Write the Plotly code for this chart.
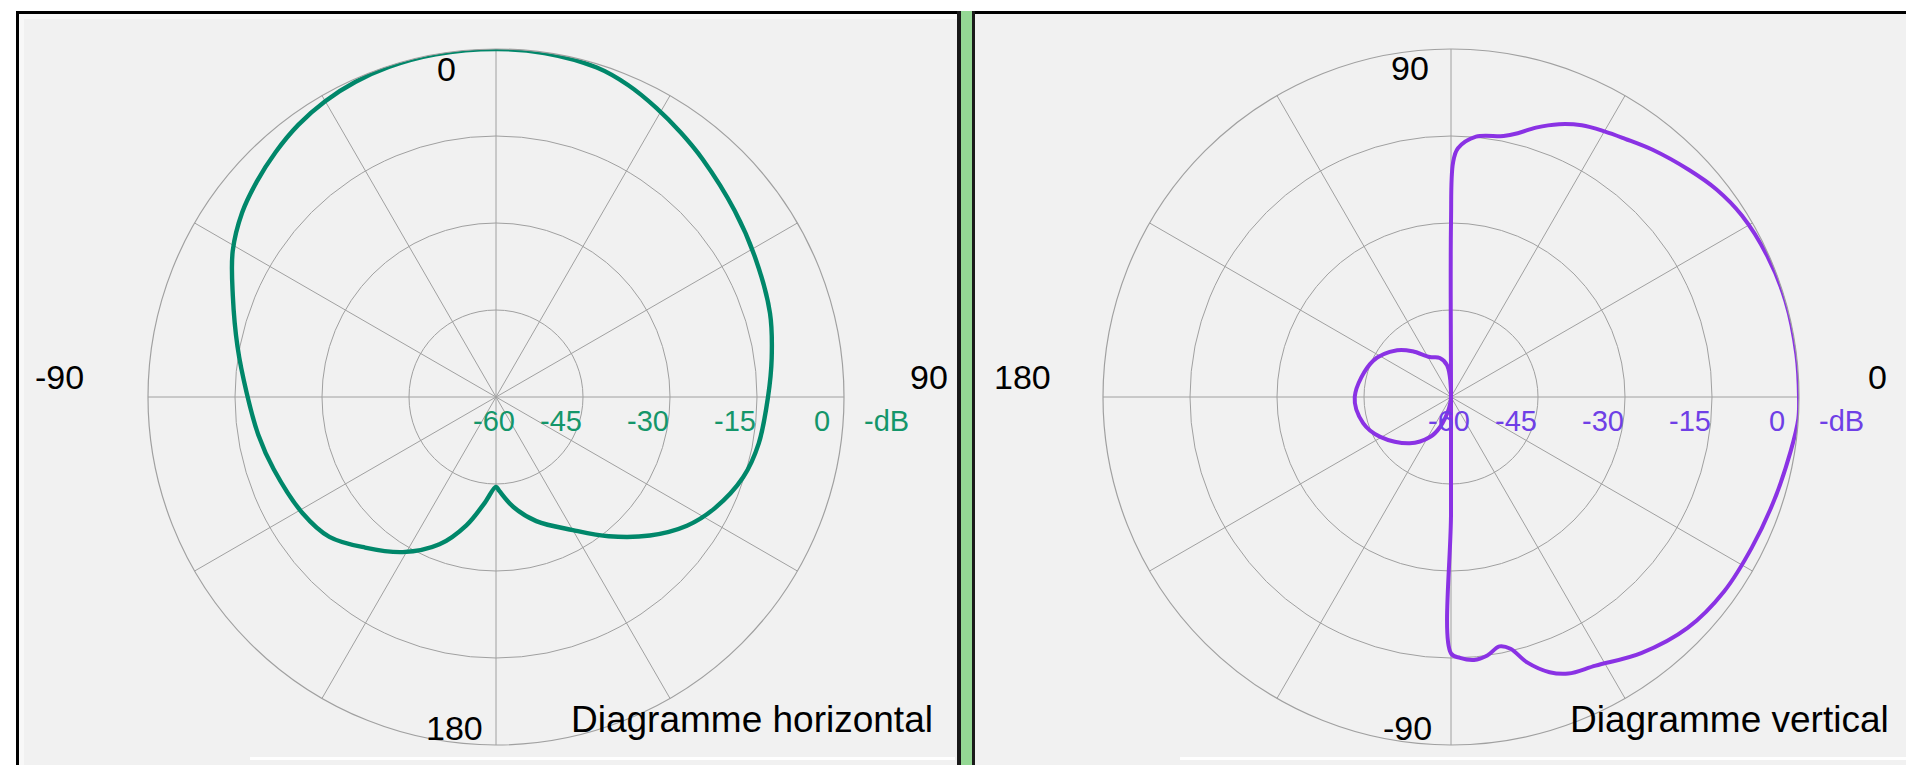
import plotly.graph_objects as go

# ---------------- data ----------------
# Horizontal diagram: angle in degrees (0 = front/top, clockwise), level in dB
H_THETA = [-180, -174, -167, -159, -149, -139, -130, -121, -108, -99, -89, -79,
           -69, -61, -54, -48, -42, -36, -30, -24, -18, -10, 0, 8, 17, 23, 29,
           35, 41, 52, 62, 73, 82, 90, 100, 108, 117, 124, 132, 141, 150, 162,
           171, 178, 180]
H_DB = [-44.5, -41.7, -37.3, -32.8, -28.8, -25.6, -22.5, -21.1, -19.7, -18.5,
        -17.0, -14.6, -11.4, -8.1, -5.9, -4.5, -3.2, -2.0, -1.1, -0.5, -0.15,
        0.0, 0.0, -0.1, -0.6, -1.6, -3.0, -4.4, -5.7, -7.8, -9.3, -10.6, -12.0,
        -13.1, -14.0, -15.2, -17.7, -20.3, -24.3, -29.1, -33.5, -37.5, -40.8,
        -43.8, -44.5]

# Vertical diagram: angle in degrees (0 = right, counter-clockwise), level in dB
V_MAIN_THETA = [-90, -88, -85, -82, -79, -76.7, -74, -70.3, -67, -61.7, -53.4,
                -44.3, -35.4, -26.6, -17.6, -9.1, -3.6, 0, 7, 16, 24, 32, 38,
                43.7, 50.8, 56, 60, 64.3, 68.4, 72.5, 75.8, 78.6, 84.5, 88.4,
                89.5, 90, 90, -90, -90]
V_MAIN_DB = [-15.8, -15.0, -14.5, -15.0, -16.2, -15.4, -12.4, -9.6, -8.2, -7.4,
             -5.0, -3.0, -2.2, -2.0, -1.5, -0.7, 0.0, 0.0, 0.0, 0.0, -0.3,
             -0.9, -1.9, -3.3, -5.0, -6.3, -7.1, -8.0, -9.4, -11.3, -13.1,
             -14.1, -14.9, -17.1, -19.6, -30, -60, -40, -15.8]
V_BACK_THETA = [92, 97, 106, 118, 130, 139, 155, 180, -163.5, -150.6, -131.7,
                -117.7, -110, -100, -92]
V_BACK_DB = [-60, -54.5, -53, -52.2, -49.7, -47.7, -45.2, -43.4, -44.2, -46,
             -49.3, -52.2, -54.5, -58, -60]

RADIAL_TICKS = [-60, -45, -30, -15, 0]
RADIAL_LABELS = ["-60", "-45", "-30", "-15", "0"]
H_ANGLE_LABELS = ["0", "90", "180", "-90"]
V_ANGLE_LABELS = ["90", "0", "-90", "180"]
UNIT = "-dB"
TITLES = ["Diagramme horizontal", "Diagramme vertical"]

# ---------------- geometry / style ----------------
W, H = 1906, 765
R = 348
CY = 397
CX_L, CX_R = 496, 1451
GREEN = "#00876a"
GREEN_TXT = "#14966a"
PURPLE = "#8a32e4"
PURPLE_TXT = "#6f3fe6"
GRID = "#a0a0a0"
FONT = "Liberation Sans, Arial, sans-serif"


def px(x):
    return x / W


def py(y):
    return 1 - y / H


def dom(cx):
    return dict(x=[px(cx - R), px(cx + R)], y=[py(CY + R), py(CY - R)])


fig = go.Figure()

fig.add_trace(go.Scatterpolar(
    r=H_DB, theta=H_THETA, mode="lines", subplot="polar",
    line=dict(color=GREEN, width=4.4, shape="spline", smoothing=1.0),
    cliponaxis=False, showlegend=False, hoverinfo="skip"))
fig.add_trace(go.Scatterpolar(
    r=V_MAIN_DB, theta=V_MAIN_THETA, mode="lines", subplot="polar2",
    line=dict(color=PURPLE, width=4.0, shape="spline", smoothing=1.0),
    cliponaxis=False, showlegend=False, hoverinfo="skip"))
fig.add_trace(go.Scatterpolar(
    r=V_BACK_DB, theta=V_BACK_THETA, mode="lines", subplot="polar2",
    line=dict(color=PURPLE, width=4.0, shape="spline", smoothing=1.0),
    cliponaxis=False, showlegend=False, hoverinfo="skip"))

radial = dict(range=[-60, 0], tickvals=RADIAL_TICKS, showticklabels=False,
              ticks="", showline=False, gridcolor=GRID, gridwidth=1.2)
ang = dict(dtick=30, tick0=0, showticklabels=False, ticks="", showline=True,
           linecolor=GRID, linewidth=1.2, gridcolor=GRID, gridwidth=1.2)

fig.update_layout(
    width=W, height=H, margin=dict(l=0, r=0, t=0, b=0),
    paper_bgcolor="#ffffff", plot_bgcolor="#ffffff",
    polar=dict(domain=dom(CX_L), bgcolor="rgba(0,0,0,0)",
               radialaxis=dict(radial, angle=90),
               angularaxis=dict(ang, rotation=90, direction="clockwise")),
    polar2=dict(domain=dom(CX_R), bgcolor="rgba(0,0,0,0)",
                radialaxis=dict(radial, angle=0),
                angularaxis=dict(ang, rotation=0, direction="counterclockwise")),
)

# ---------------- panel frames ----------------
shapes = []


def rect(x0, y0, x1, y1, color):
    shapes.append(dict(type="rect", xref="paper", yref="paper", layer="below",
                       x0=px(x0), x1=px(x1), y0=py(y1), y1=py(y0),
                       fillcolor=color, line=dict(width=0)))


rect(16, 11, 960, 765, "#f1f1f1")
rect(974, 11, 1906, 765, "#f1f1f1")
rect(19, 14, 24, 765, "#f8f8f8")
rect(19, 14, 958, 19, "#f8f8f8")
rect(16, 11, 19, 765, "#000000")
rect(16, 11, 960, 14, "#000000")
rect(957, 11, 961, 765, "#1a1a1a")
rect(961, 11, 972, 765, "#94d894")
rect(972, 11, 975, 765, "#1a1a1a")
rect(975, 11, 1906, 14, "#000000")
rect(250, 757, 955, 760, "#ffffff")
rect(1180, 757, 1906, 760, "#ffffff")
fig.update_layout(shapes=shapes)

# ---------------- labels ----------------
ann = []


def label(text, x, y, size, color="#000000", xanchor="center"):
    ann.append(dict(text=text, x=px(x), y=py(y), xref="paper", yref="paper",
                    showarrow=False, xanchor=xanchor, yanchor="middle",
                    font=dict(family=FONT, size=size, color=color)))


AS = 34
# horizontal diagram angle labels
label(H_ANGLE_LABELS[0], 446, 69, AS)
label(H_ANGLE_LABELS[1], 929, 377, AS)
label(H_ANGLE_LABELS[2], 454, 728, AS)
label(H_ANGLE_LABELS[3], 60, 377, AS)
# vertical diagram angle labels
label(V_ANGLE_LABELS[0], 1410, 68, AS)
label(V_ANGLE_LABELS[1], 1877, 377, AS)
label(V_ANGLE_LABELS[2], 1407, 728, AS)
label(V_ANGLE_LABELS[3], 1022, 377, AS)

RS = 29
LY = CY + 24
for cx, col in ((CX_L, GREEN_TXT), (CX_R, PURPLE_TXT)):
    for val, txt in zip(RADIAL_TICKS, RADIAL_LABELS):
        rad = (val - RADIAL_TICKS[0]) / (RADIAL_TICKS[-1] - RADIAL_TICKS[0]) * R
        if val == RADIAL_TICKS[0]:
            label(txt, cx - 2, LY, RS, col)
        elif val == RADIAL_TICKS[-1]:
            label(txt, cx + rad - 12, LY, RS, col, xanchor="right")
        else:
            label(txt, cx + rad + 1, LY, RS, col, xanchor="right")
    label(UNIT, cx + R + 18, LY, RS, col, xanchor="left")

label(TITLES[0], 569, 719, 37, xanchor="left")
label(TITLES[1], 1568, 719, 37, xanchor="left")
fig.update_layout(annotations=ann)

fig.write_html("out.html", config={"displayModeBar": False},
               post_script="document.body.style.margin='0';document.body.style.overflow='hidden';")
